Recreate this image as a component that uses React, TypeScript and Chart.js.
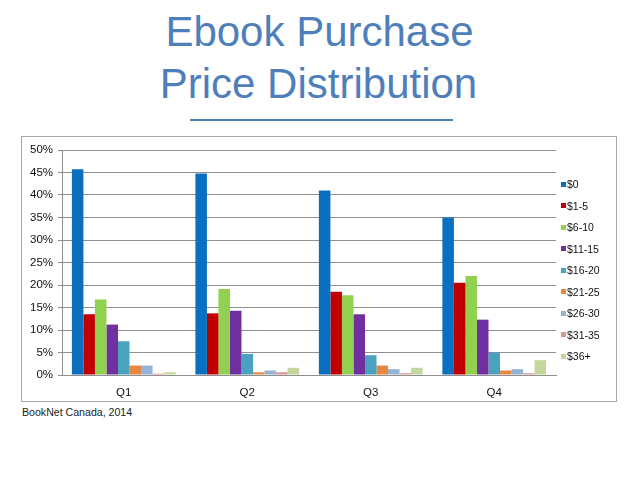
import React, { useEffect, useRef } from "react";
import { Chart, registerables } from "chart.js";

Chart.register(...registerables);

const categories = ["Q1", "Q2", "Q3", "Q4"];
const seriesLabels = ["$0", "$1-5", "$6-10", "$11-15", "$16-20", "$21-25", "$26-30", "$31-35", "$36+"];
const price0 = [45.7, 44.8, 41.0, 35.0];
const price1to5 = [13.5, 13.7, 18.5, 20.5];
const price6to10 = [16.8, 19.1, 17.7, 22.0];
const price11to15 = [11.2, 14.3, 13.5, 12.3];
const price16to20 = [7.5, 4.7, 4.4, 5.0];
const price21to25 = [2.1, 0.6, 2.1, 1.0];
const price26to30 = [2.1, 1.0, 1.3, 1.3];
const price31to35 = [0.3, 0.6, 0.4, 0.4];
const price36plus = [0.6, 1.6, 1.6, 3.3];
const seriesValues = [price0, price1to5, price6to10, price11to15, price16to20, price21to25, price26to30, price31to35, price36plus];
const seriesColors = ["#0B6FBF", "#C00000", "#92D050", "#7030A0", "#4AA3BE", "#E8873F", "#95B3D7", "#D99694", "#C3D69B"];
const yTicks = [0, 5, 10, 15, 20, 25, 30, 35, 40, 45, 50];

const FONT = "'Liberation Sans', Arial, Helvetica, sans-serif";
const TITLE_COLOR = "#4F7FBA";

export default function App() {
  const ref = useRef<HTMLCanvasElement | null>(null);

  useEffect(() => {
    if (!ref.current) return;
    const chart = new Chart(ref.current, {
      type: "bar",
      data: {
        labels: categories,
        datasets: seriesLabels.map((label, i) => ({
          label,
          data: seriesValues[i],
          backgroundColor: seriesColors[i],
          borderWidth: 0,
          categoryPercentage: 0.84,
          barPercentage: 1.0,
        })),
      },
      options: {
        responsive: false,
        animation: false,
        devicePixelRatio: 1,
        layout: { padding: { left: 0, right: 60, top: 13, bottom: 0 } },
        plugins: {
          legend: { display: false },
          tooltip: { enabled: false },
          title: { display: false },
        },
        scales: {
          x: {
            grid: { display: true, drawOnChartArea: false, drawTicks: false },
            border: { display: true, color: "#8f8f8f", width: 1 },
            ticks: {
              color: "#111",
              font: { family: FONT, size: 11.5 },
              padding: 11,
            },
            afterFit: (s: any) => {
              s.height = 25;
            },
          },
          y: {
            min: 0,
            max: 50,
            afterBuildTicks: (s: any) => {
              s.ticks = yTicks.map((v) => ({ value: v }));
            },
            grid: { color: "#8f8f8f", lineWidth: 1, tickLength: 4, drawTicks: true },
            border: { display: true, color: "#8f8f8f", width: 1 },
            ticks: {
              color: "#111",
              font: { family: FONT, size: 11.5 },
              padding: 5,
              callback: (v: any) => v + "%",
            },
            afterFit: (s: any) => {
              s.width = 40;
            },
          },
        },
      },
    });
    return () => chart.destroy();
  }, []);

  const legendY = [184, 205.5, 227, 248.5, 270, 291.5, 313, 334.5, 356];

  return (
    <div style={{ position: "absolute", left: 0, top: 0, width: 638, height: 479, background: "#fff", fontFamily: FONT }}>
      <div
        style={{
          position: "absolute",
          left: 0,
          top: 11,
          width: 639,
          textAlign: "center",
          fontSize: 42,
          lineHeight: "42px",
          color: TITLE_COLOR,
          whiteSpace: "nowrap",
        }}
      >
        Ebook Purchase
      </div>
      <div
        style={{
          position: "absolute",
          left: 0,
          top: 62.7,
          width: 637,
          textAlign: "center",
          fontSize: 42,
          lineHeight: "42px",
          color: TITLE_COLOR,
          whiteSpace: "nowrap",
        }}
      >
        Price Distribution
      </div>
      <div style={{ position: "absolute", left: 190, top: 119, width: 263, height: 1.5, background: TITLE_COLOR }} />
      <div
        style={{
          position: "absolute",
          left: 21,
          top: 136,
          width: 594,
          height: 264,
          border: "1px solid #a8a8a8",
        }}
      />
      <canvas
        ref={ref}
        width={594}
        height={263}
        style={{ position: "absolute", left: 22, top: 137, width: 594, height: 263 }}
      />
      {seriesLabels.map((label, i) => (
        <React.Fragment key={label}>
          <div
            style={{
              position: "absolute",
              left: 561,
              top: legendY[i] - 2.5,
              width: 5,
              height: 5,
              background: seriesColors[i],
            }}
          />
          <div
            style={{
              position: "absolute",
              left: 567,
              top: legendY[i] - 6,
              fontSize: 10.5,
              lineHeight: "12px",
              color: "#111",
              whiteSpace: "nowrap",
            }}
          >
            {label}
          </div>
        </React.Fragment>
      ))}
      <div
        style={{
          position: "absolute",
          left: 22,
          top: 407,
          fontSize: 10.6,
          lineHeight: "11px",
          color: "#222",
          whiteSpace: "nowrap",
        }}
      >
        BookNet Canada, 2014
      </div>
    </div>
  );
}
